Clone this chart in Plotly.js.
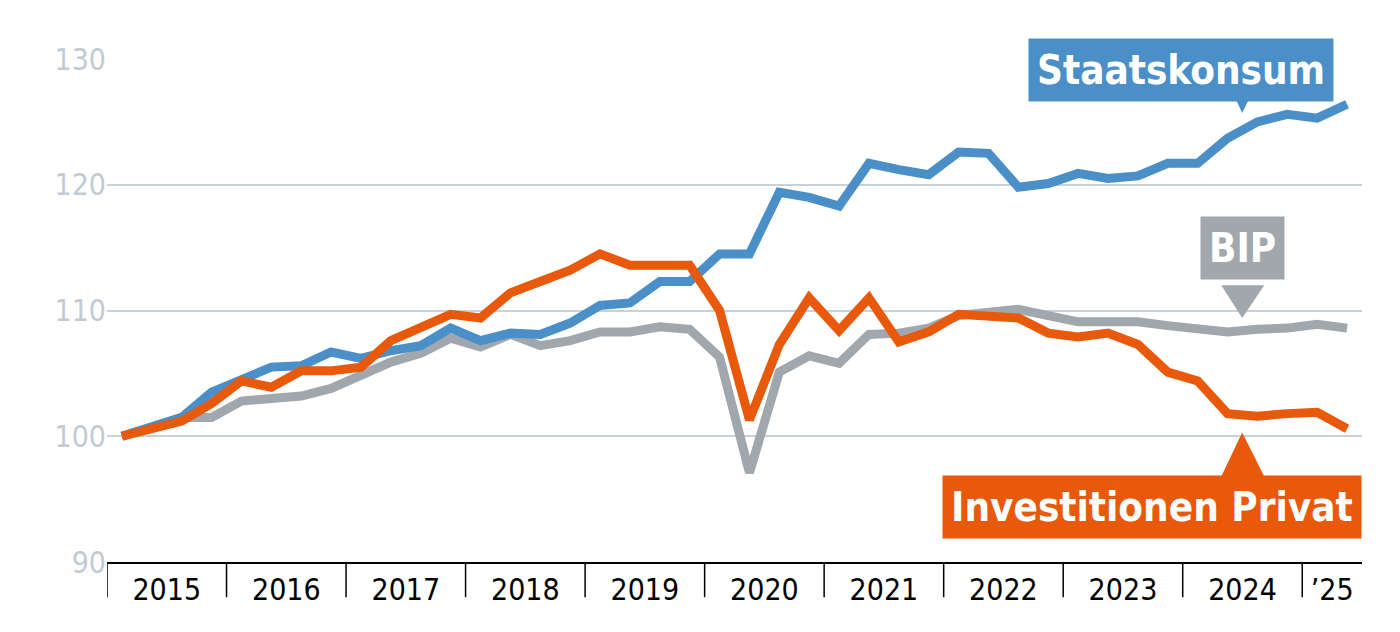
<!DOCTYPE html>
<html><head><meta charset="utf-8">
<script src="https://cdn.plot.ly/plotly-3.0.1.min.js"></script>
<style>body{margin:0}#chart{width:1400px;height:632px}</style>
</head><body><div id="chart"></div>
<script>
// quarterly index, 2015 Q1 = 100, up to 2025 Q2
const staatskonsum = [100,100.8,101.5,103.5,104.5,105.5,105.6,106.7,106.2,106.8,107.2,108.6,107.6,108.2,108.1,109,
  110.4,110.6,112.3,112.3,114.5,114.5,119.4,119.0,118.3,121.7,121.2,120.8,122.6,122.5,119.8,120.1,120.9,120.5,120.7,
  121.7,121.7,123.7,125,125.6,125.3,126.4];
const investPrivat = [100,100.6,101.2,102.6,104.4,103.9,105.2,105.2,105.5,107.6,108.7,109.7,109.4,111.4,112.3,113.2,
  114.5,113.6,113.6,113.6,110,101.3,107.3,111,108.4,111,107.5,108.3,109.7,109.6,109.4,108.2,107.9,108.2,107.3,
  105.1,104.4,101.8,101.6,101.8,101.9,100.6];
const bip = [100,100.7,101.5,101.5,102.8,103,103.2,103.8,104.9,105.9,106.6,107.8,107.1,108.1,107.2,107.6,
  108.3,108.3,108.7,108.5,106.3,97.1,105.1,106.4,105.8,108.1,108.2,108.6,109.6,109.9,110.1,109.6,109.1,109.1,109.1,
  108.8,108.6,108.3,108.5,108.6,108.9,108.6];
const yearLabels = ["2015","2016","2017","2018","2019","2020","2021","2022","2023","2024","’25"];
const yearTickPos = [1.5,5.5,9.5,13.5,17.5,21.5,25.5,29.5,33.5,37.5,40.5];
const yearBounds = [-0.5,3.5,7.5,11.5,15.5,19.5,23.5,27.5,31.5,35.5,39.5];

const xs = staatskonsum.map((_, i) => i);
const BLUE = "#4b8fc9", ORANGE = "#e8590c", GREY = "#a0a8ad";
const FONT = "DejaVu Sans Condensed, DejaVu Sans, sans-serif";

function tr(y, color) {
  return {x: xs, y: y, type: "scatter", mode: "lines", line: {color: color, width: 9}, hoverinfo: "skip"};
}
const data = [tr(bip, GREY), tr(staatskonsum, BLUE), tr(investPrivat, ORANGE)];

const shapes = yearBounds.map(b => ({type: "line", xref: "x", yref: "paper", x0: b, x1: b, y0: 0, y1: -0.07,
  line: {color: "#000", width: 1.5}}));
function tri(x0, x1, xt, yb, yt, color) {
  return {type: "path", xref: "x", yref: "y", path: `M${x0},${yb} L${x1},${yb} L${xt},${yt} Z`,
    fillcolor: color, line: {width: 0}};
}
shapes.push(tri(36.79, 38.23, 37.49, 129.3, 125.7, BLUE));
shapes.push(tri(36.79, 38.23, 37.49, 112.0, 109.4, GREY));
shapes.push(tri(36.79, 38.23, 37.49, 96.8, 100.3, ORANGE));

function box(text, x, y, color, yref) {
  return {text: "<b>" + text + "</b>", x: x, y: y, xref: "x", yref: yref || "y", showarrow: false,
    bgcolor: color, borderpad: 8, font: {family: FONT, size: 40, color: "#fff"}};
}

const layout = {
  width: 1400, height: 632,
  margin: {l: 107, r: 38, t: 59, b: 70},
  paper_bgcolor: "#fff", plot_bgcolor: "#fff",
  showlegend: false,
  xaxis: {range: [-0.5, 41.5], tickvals: yearTickPos, ticktext: yearLabels, ticks: "",
    showgrid: false, zeroline: false, showline: true, linecolor: "#000", linewidth: 1.5,
    tickfont: {family: FONT, size: 30, color: "#000"}},
  yaxis: {range: [90, 130], tickvals: [90,100,110,120,130], ticks: "", showline: false, zeroline: false,
    gridcolor: "#c9d1d8", gridwidth: 1.5,
    tickfont: {family: FONT, size: 30, color: "#c2cbd3"}},
  shapes: shapes,
  annotations: [
    box("Staatskonsum", 35.45, 1.042, BLUE, "paper"),
    box("BIP", 37.49, 115.0, GREY),
    box("Investitionen Privat", 34.48, 94.4, ORANGE)
  ]
};

Plotly.newPlot("chart", data, layout, {displayModeBar: false});
</script>
</body></html>
